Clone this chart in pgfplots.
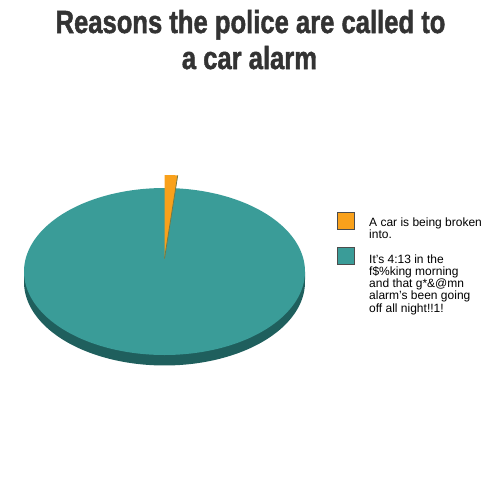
\documentclass[border=0pt]{standalone}
\usepackage{pgfplots}
\pgfplotsset{compat=1.18}
\usepackage{graphicx}
\usepackage{fontspec}
\setmainfont{Liberation Sans}
\newfontfamily\titlefont{Liberation Sans Bold}[FakeBold=1.6]
\definecolor{pieorange}{HTML}{F9A11B}
\definecolor{pieteal}{HTML}{3A9C98}
\definecolor{pieside}{HTML}{1F5F5D}
\definecolor{titlegray}{HTML}{333333}
% pie data (percent)
\def\valA{1.5}   % A car is being broken into.
\def\valB{98.5}  % It's 4:13 ...
% geometry (px)
\def\cx{164.5}\def\cy{271.5}\def\rx{140.5}\def\ry{83.5}\def\dep{10.5}\def\expl{13}
\begin{document}
\begin{tikzpicture}
\begin{axis}[
  scale only axis, width=504pt, height=485pt,
  xmin=0, xmax=504, ymin=0, ymax=485, y dir=reverse,
  axis lines=none, clip=false,
]
% frame of the picture (invisible)
\addplot[draw=none, forget plot] coordinates {(0,0) (504,485)};
\path (axis cs:0,0) rectangle (axis cs:504,485);
% side (depth) of the pie
\addplot[fill=pieside, draw=none, domain=180:360, samples=120]
  ({\cx+\rx*cos(x)}, {\cy-\ry*sin(x)+\dep}) -- (axis cs:{\cx+\rx},{\cy}) -- (axis cs:{\cx-\rx},{\cy}) -- cycle;
% teal slice (drawn also beneath the exploded slice)
\addplot[fill=pieteal, draw=none, domain={90-3.6*\valA}:{90+3.6*\valB}, samples=300]
  ({\cx+\rx*cos(x)}, {\cy-\ry*sin(x)}) -- (axis cs:\cx,\cy) -- cycle;
% orange slice (exploded upward)
\addplot[fill=pieorange, draw=none, domain={90-3.6*\valA}:90, samples=20]
  ({\cx+\rx*cos(x)}, {\cy-\expl-\ry*sin(x)}) -- (axis cs:\cx,{\cy-\expl}) -- cycle;
\addplot[draw=pieside!60!pieorange, line width=0.8pt]
  coordinates {(\cx,{\cy-\expl}) ({\cx+\rx*cos(90-3.6*\valA)},{\cy-\expl-\ry*sin(90-3.6*\valA)})};
% title
\node[anchor=base, text=titlegray, inner sep=0pt] at (axis cs:250.5,33)
  {\scalebox{0.80}[1]{\fontsize{32}{32}\selectfont\titlefont Reasons the police are called to}};
\node[anchor=base, text=titlegray, inner sep=0pt] at (axis cs:249.5,69)
  {\scalebox{0.80}[1]{\fontsize{32}{32}\selectfont\titlefont a car alarm}};
% legend
\addplot[fill=pieorange, draw=black!70, line width=0.5pt] coordinates {(337,212) (354,212) (354,229) (337,229)} -- cycle;
\addplot[fill=pieteal, draw=black!70, line width=0.5pt] coordinates {(337,247) (354,247) (354,264) (337,264)} -- cycle;
\node[anchor=base west, align=left, inner sep=0pt, font=\fontsize{12}{12.3}\selectfont] at (axis cs:369,238.3)
  {A car is being broken\\into.};
\node[anchor=base west, align=left, inner sep=0pt, font=\fontsize{12}{12.3}\selectfont] at (axis cs:369,312.2)
  {It's 4:13 in the\\f\$\%king morning\\and that g*\&@mn\\alarm's been going\\off all night!!1!};
\end{axis}
\end{tikzpicture}
\end{document}
